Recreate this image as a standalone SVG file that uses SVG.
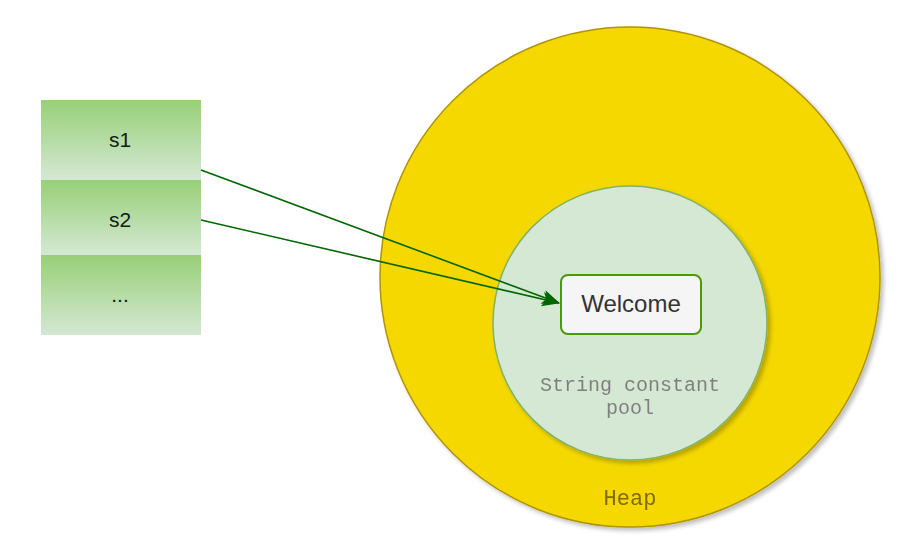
<svg xmlns="http://www.w3.org/2000/svg" width="900" height="560" viewBox="0 0 900 560">
<defs>
<linearGradient id="cellGrad" x1="0" y1="0" x2="0" y2="1">
<stop offset="0" stop-color="#97d077"/>
<stop offset="1" stop-color="#d5e8d4"/>
</linearGradient>
<filter id="shadow" x="-10%" y="-10%" width="125%" height="125%">
<feGaussianBlur in="SourceAlpha" stdDeviation="2"/>
<feOffset dx="3" dy="3" result="b"/>
<feComponentTransfer><feFuncA type="linear" slope="0.25"/></feComponentTransfer>
<feMerge><feMergeNode/><feMergeNode in="SourceGraphic"/></feMerge>
</filter>
<marker id="arrowBig" viewBox="0 0 20 20" refX="19" refY="10" markerWidth="18" markerHeight="18" markerUnits="userSpaceOnUse" orient="auto">
<path d="M0,2 L20,10 L0,18 L5,10 Z" fill="#006600"/>
</marker>
</defs>
<style>
.cell{fill:url(#cellGrad);stroke:none}
.lbl{font-family:"Liberation Sans",Arial,sans-serif;font-size:21px;fill:#102010;text-anchor:middle}
.mono{font-family:"Liberation Mono","Courier New",monospace;font-size:20px;text-anchor:middle}
.conn{stroke:#006600;stroke-width:1.6;fill:none}
</style>
<g id="heap" filter="url(#shadow)">
<ellipse cx="630" cy="277" rx="250" ry="250" fill="#f4d800" stroke="#b09500" stroke-width="1.5"/>
<text class="mono" x="630" y="505" fill="#806a00" style="font-size:22px">Heap</text>
</g>
<g id="pool" filter="url(#shadow)">
<circle cx="630" cy="323" r="137" fill="#d5e8d4" stroke="#82b366" stroke-width="1.5"/>
<text class="mono" x="630" y="391" fill="#808080">String constant</text>
<text class="mono" x="630" y="414" fill="#808080">pool</text>
</g>
<g id="s1">
<rect class="cell" x="41" y="100" width="160" height="80"/>
<text class="lbl" x="120" y="147">s1</text>
</g>
<g id="s2">
<rect class="cell" x="41" y="180" width="160" height="75"/>
<text class="lbl" x="120" y="227">s2</text>
</g>
<g id="more">
<rect class="cell" x="41" y="255" width="160" height="80"/>
<text class="lbl" x="120" y="302">...</text>
</g>
<g id="welcome">
<rect x="561" y="275" width="140" height="59" rx="7" fill="#f5f5f5" stroke="#4d9900" stroke-width="2"/>
<text class="lbl" x="631" y="312" style="fill:#333333;font-size:24px">Welcome</text>
</g>
<g id="connectors">
<path class="conn" d="M201,170 L559,303" marker-end="url(#arrowBig)"/>
<path class="conn" d="M201,220 L559,303" marker-end="url(#arrowBig)"/>
</g>
</svg>
